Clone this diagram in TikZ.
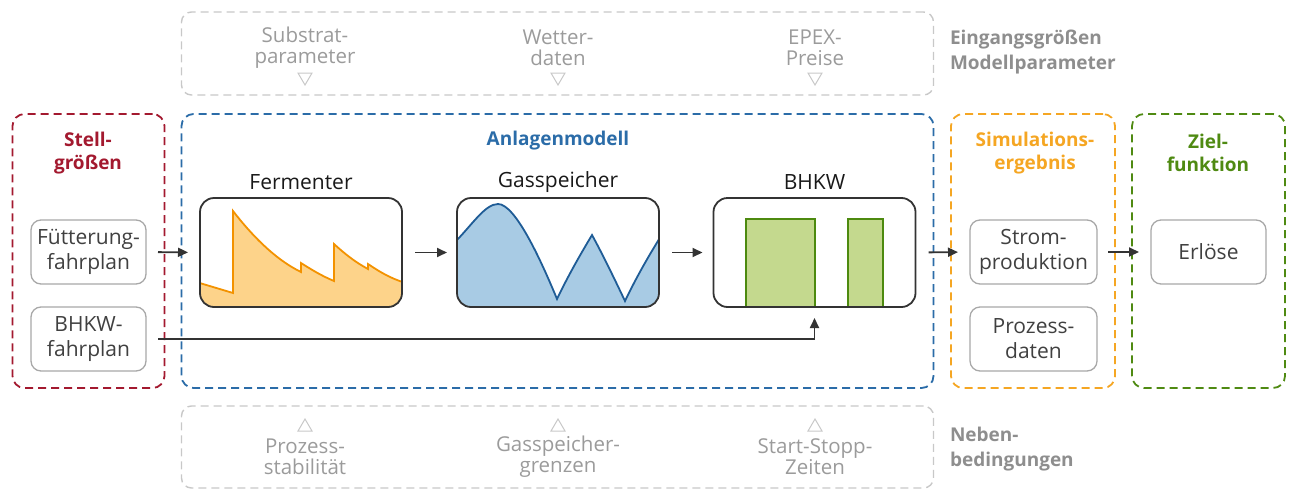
\documentclass[tikz,border=0pt]{standalone}
\usepackage{fontspec}
\setmainfont{Open Sans}
\usetikzlibrary{arrows.meta}
\definecolor{cred}{HTML}{A3192F}
\definecolor{cblue}{HTML}{2B6CA8}
\definecolor{corange}{HTML}{F5A623}
\definecolor{cgreen}{HTML}{4F8A12}
\definecolor{lgray}{HTML}{C8C8C8}
\definecolor{tgray}{HTML}{9B9B9B}
\definecolor{hgray}{HTML}{8E8E8E}
\definecolor{bgray}{HTML}{A8A8A8}
\definecolor{dgray}{HTML}{404040}
\definecolor{agray}{HTML}{333333}
\definecolor{ofill}{HTML}{FDD38A}
\definecolor{oline}{HTML}{F39200}
\definecolor{bfill}{HTML}{A8CBE4}
\definecolor{bline}{HTML}{1F5C96}
\definecolor{gfill}{HTML}{C4D98E}
\definecolor{gline}{HTML}{4D8A0F}
\begin{document}
\begin{tikzpicture}[x=1pt,y=-1pt,
  font=\fontsize{21}{25}\selectfont,
  every node/.style={inner sep=0pt, outer sep=0pt},
  group/.style={draw, dash pattern=on 8pt off 5pt, line width=1.8pt, rounded corners=12pt},
  ggroup/.style={draw=lgray, dash pattern=on 8pt off 5pt, line width=1.4pt, rounded corners=10pt},
  head/.style={align=center, font=\fontsize{19}{23}\selectfont\bfseries},
  rlab/.style={align=left, anchor=west, text=hgray, font=\fontsize{19}{24.5}\selectfont\bfseries},
  glab/.style={align=center, text=tgray, font=\fontsize{20.5}{21}\selectfont},
  lab/.style={text=black!90},
  ibox/.style={draw=bgray, line width=1.3pt, rounded corners=10pt, align=center, text=dgray, minimum height=64, minimum width=115},
  mbox/.style={minimum width=202, minimum height=109},
  mborder/.style={draw=agray, line width=1.8pt, rounded corners=14pt},
  arr/.style={draw=agray, line width=1.8pt, -{Triangle[length=10pt,width=9pt]}},
  tri/.style={draw=lgray, line width=1pt, line join=miter},
]
\useasboundingbox (0,0) rectangle (1289,490);

% group frames
\node[group, draw=cred, minimum width=152, minimum height=274] (stell) at (88.5,251) {};
\node[group, draw=cblue, minimum width=752, minimum height=274] (anl) at (557.5,251) {};
\node[group, draw=corange, minimum width=164, minimum height=274] (sim) at (1033,251) {};
\node[group, draw=cgreen, minimum width=153, minimum height=274] (ziel) at (1208.5,251) {};
\node[ggroup, minimum width=752, minimum height=83] (ein) at (557.5,53.5) {};
\node[ggroup, minimum width=752, minimum height=82] (neb) at (557.5,447) {};

% headings
\node[head, text=cred] (stellT) at (88,153) {Stell-\\größen};
\node[head, text=cblue] (anlT) at (558,141) {Anlagenmodell};
\node[head, text=corange] (simT) at (1035,153) {Simulations-\\ergebnis};
\node[head, text=cgreen] (zielT) at (1208,153) {Ziel-\\funktion};
\node[rlab] (einT) at (950,52) {Eingangsgrößen\\Modellparameter};
\node[rlab] (nebT) at (950,449) {Neben-\\bedingungen};

% input parameters
\node[glab] (sub) at (305,48) {Substrat-\\parameter};
\node[glab] (wet) at (558,48) {Wetter-\\daten};
\node[glab] (epex) at (815,48) {EPEX-\\Preise};
\foreach \x in {305,558,815} {
  \draw[tri] (\x-7,73) -- (\x+7,73) -- (\x,85) -- cycle;
  \draw[tri] (\x-7,431) -- (\x+7,431) -- (\x,419) -- cycle;
}
\node[glab] (pst) at (305,457) {Prozess-\\stabilität};
\node[glab] (gsg) at (558,457) {Gasspeicher-\\grenzen};
\node[glab] (ssz) at (815,457) {Start-Stopp-\\Zeiten};

% inner boxes
\node[ibox] (fuett) at (88.5,252) {Fütterung-\\fahrplan};
\node[ibox] (bfp) at (88.5,339) {BHKW-\\fahrplan};
\node[ibox, minimum width=127] (strom) at (1033.5,252) {Strom-\\produktion};
\node[ibox, minimum width=127] (proz) at (1033.5,339) {Prozess-\\daten};
\node[ibox] (erl) at (1208.5,252) {Erlöse};

% model boxes
\node[mbox] (fer) at (301,252.5) {};
\node[mbox] (gas) at (558,252.5) {};
\node[mbox] (bhkw) at (814.5,252.5) {};
\node[lab] (ferT) at (301,182) {Fermenter};
\node[lab] (gasT) at (558,182) {Gasspeicher};
\node[lab] (bhkwT) at (814.5,182) {BHKW};

\begin{scope}
\clip[rounded corners=14pt] (fer.north west) rectangle (fer.south east);
\fill[ofill] (200,283) -- (233,293) -- (233,211) .. controls (250,233) and (274,259) .. (301,272) -- (301,263) .. controls (312,270) and (322,276) .. (334,281) -- (334,244) .. controls (345,254) and (355,262) .. (368,269) -- (368,264) .. controls (380,272) and (390,278) .. (403,282) -- (403,312) -- (199,312) -- cycle;
\draw[oline, line width=1.8pt, line join=miter] (198,282.5) -- (233,293) -- (233,211) .. controls (250,233) and (274,259) .. (301,272) -- (301,263) .. controls (312,270) and (322,276) .. (334,281) -- (334,244) .. controls (345,254) and (355,262) .. (368,269) -- (368,264) .. controls (380,272) and (390,278) .. (404,282.5);
\end{scope}
\draw[mborder] (fer.north west) rectangle (fer.south east);

\begin{scope}
\clip[rounded corners=14pt] (gas.north west) rectangle (gas.south east);
\fill[bfill] (455,242) .. controls (472,225) and (485,204) .. (498,204) .. controls (515,204) and (540,258) .. (557,299) .. controls (568,276) and (580,255) .. (592,235) .. controls (603,255) and (614,278) .. (625,301) .. controls (636,278) and (648,257) .. (661,236) -- (661,312) -- (455,312) -- cycle;
\draw[bline, line width=1.8pt] (455,242) .. controls (472,225) and (485,204) .. (498,204) .. controls (515,204) and (540,258) .. (557,299) .. controls (568,276) and (580,255) .. (592,235) .. controls (603,255) and (614,278) .. (625,301) .. controls (636,278) and (648,257) .. (661,236);
\end{scope}
\draw[mborder] (gas.north west) rectangle (gas.south east);

\draw[gline, fill=gfill, line width=1.6pt] (746,307) -- (746,219) -- (815,219) -- (815,307);
\draw[gline, fill=gfill, line width=1.6pt] (848,307) -- (848,219) -- (883,219) -- (883,307);
\draw[mborder] (bhkw.north west) rectangle (bhkw.south east);

% connectors
\draw[arr, shorten <=12pt, shorten >=12pt] (fuett.east) -- (fer.west);
\draw[arr, shorten <=13pt, shorten >=10pt] (fer.east) -- (gas.west);
\draw[arr, shorten <=13pt, shorten >=11pt] (gas.east) -- (bhkw.west);
\draw[arr, shorten <=13pt, shorten >=12pt] (bhkw.east) -- (strom.west);
\draw[arr, shorten <=11pt, shorten >=12pt] (strom.east) -- (erl.west);
\draw[arr, shorten <=12pt, shorten >=11pt] (bfp.east) -| (bhkw.south);
\end{tikzpicture}
\end{document}
